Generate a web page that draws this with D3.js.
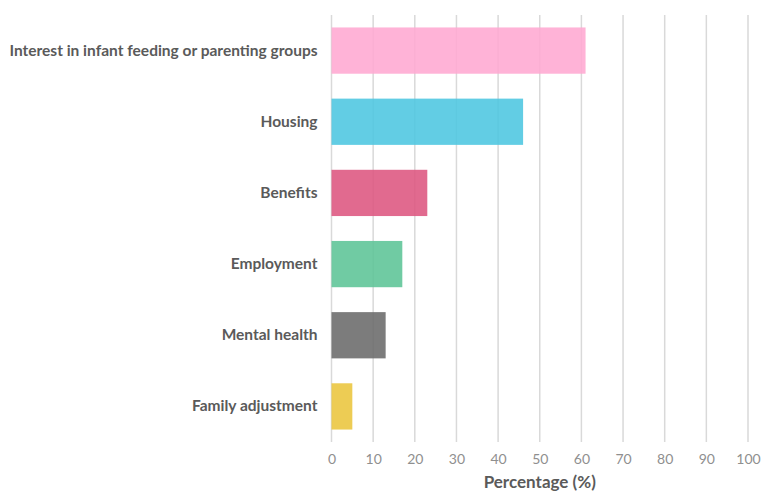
<!DOCTYPE html>
<html>
<head>
<meta charset="utf-8">
<script src="https://cdn.jsdelivr.net/npm/d3@7"></script>
<style>
  body { margin: 0; background: #fff; }
  svg { display: block; }
</style>
</head>
<body>
<div id="chart"></div>
<script>
const categories = [
  'Interest in infant feeding or parenting groups',
  'Housing',
  'Benefits',
  'Employment',
  'Mental health',
  'Family adjustment',
];
const values = [61, 46, 23, 17, 13, 5];
const colors = ['#ffa9d2', '#4cc6e0', '#dd5580', '#5cc496', '#6a6a6a', '#ebc53c'];
const tickValues = [0, 10, 20, 30, 40, 50, 60, 70, 80, 90, 100];

const width = 761;
const height = 493;
const margin = { top: 15, right: 13, bottom: 51, left: 331.5 };

const svg = d3
  .select('#chart')
  .append('svg')
  .attr('width', width)
  .attr('height', height);

const x = d3
  .scaleLinear()
  .domain([0, 100])
  .range([margin.left, width - margin.right]);

const y = d3
  .scaleBand()
  .domain(categories)
  .range([margin.top, height - margin.bottom])
  .paddingInner(0.35)
  .paddingOuter(0.175);

// vertical grid lines
svg
  .append('g')
  .selectAll('line')
  .data(tickValues)
  .join('line')
  .attr('x1', (d) => x(d))
  .attr('x2', (d) => x(d))
  .attr('y1', margin.top)
  .attr('y2', height - margin.bottom)
  .attr('stroke', '#d9d9d9')
  .attr('stroke-width', 1.5);

// bars
svg
  .append('g')
  .selectAll('rect')
  .data(values)
  .join('rect')
  .attr('x', x(0))
  .attr('y', (d, i) => y(categories[i]))
  .attr('width', (d) => x(d) - x(0))
  .attr('height', y.bandwidth())
  .attr('fill', (d, i) => colors[i])
  .attr('fill-opacity', 0.88);

// category labels
const yAxis = d3.axisLeft(y).tickSize(0).tickPadding(14);
svg
  .append('g')
  .attr('transform', `translate(${margin.left},0)`)
  .call(yAxis)
  .call((g) => g.select('.domain').remove())
  .selectAll('text')
  .attr('font-family', 'Lato')
  .attr('font-size', 15.5)
  .attr('font-weight', 700)
  .attr('fill', '#5a5a5a');

// x tick labels
const xAxis = d3.axisBottom(x).tickValues(tickValues).tickSize(0).tickPadding(12);
svg
  .append('g')
  .attr('transform', `translate(0,${height - margin.bottom})`)
  .call(xAxis)
  .call((g) => g.select('.domain').remove())
  .selectAll('text')
  .attr('font-family', 'Lato')
  .attr('font-size', 14)
  .attr('fill', '#8f8f8f');

// axis title
svg
  .append('text')
  .attr('x', x(50))
  .attr('y', 488)
  .attr('text-anchor', 'middle')
  .attr('font-family', 'Lato')
  .attr('font-size', 17)
  .attr('font-weight', 700)
  .attr('fill', '#5a5a5a')
  .text('Percentage (%)');
</script>
</body>
</html>
